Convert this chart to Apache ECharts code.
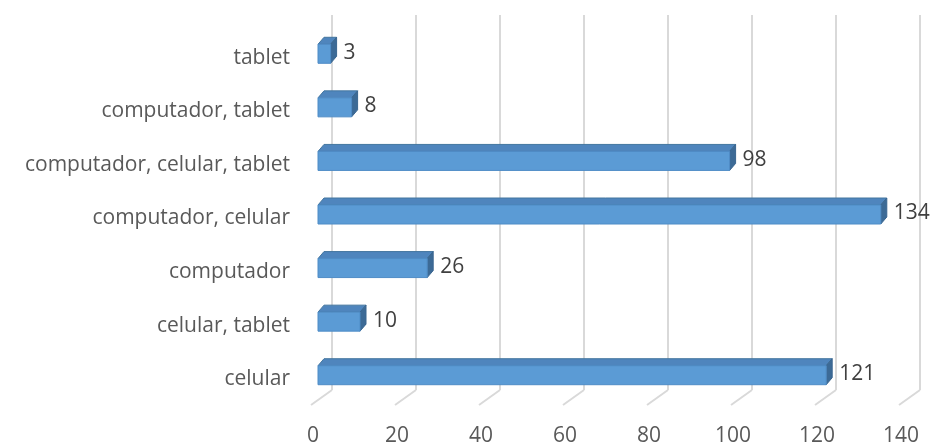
<!DOCTYPE html>
<html>
<head>
<meta charset="utf-8">
<script src="https://cdn.jsdelivr.net/npm/echarts@6/dist/echarts.min.js"></script>
<style>
  html, body { margin: 0; padding: 0; background: #ffffff; }
  #chart { width: 938px; height: 444px; }
</style>
</head>
<body>
<div id="chart"></div>
<script>
// Devices used, bottom to top
const categories = [
  'celular',
  'celular, tablet',
  'computador',
  'computador, celular',
  'computador, celular, tablet',
  'computador, tablet',
  'tablet'
];
const counts = [121, 10, 26, 134, 98, 8, 3];
const axisMax = 140;
const axisStep = 20;
const tickValues = [0, 20, 40, 60, 80, 100, 120, 140];

const FONT = 'Open Sans';
const FONT_SIZE = 21;
const TEXT_GRAY = '#595959';
const LABEL_DARK = '#404040';

// depth of the bar prisms (pixels)
const DX = 6, DY = -7;

const chart = echarts.init(document.getElementById('chart'), null, { renderer: 'canvas' });

function renderBar(params, api) {
  const v = api.value(0);
  const cat = api.value(1);
  const start = api.coord([0, cat]);
  const end = api.coord([v, cat]);
  const h = 19;
  const x0 = start[0], x1 = end[0];
  const yTop = start[1] - h / 2 + 2, yBot = yTop + h;
  return {
    type: 'group',
    children: [
      { // top face
        type: 'polygon',
        shape: { points: [[x0, yTop], [x0 + DX, yTop + DY], [x1 + DX, yTop + DY], [x1, yTop]] },
        style: { fill: '#4f85bd', stroke: '#44769f', lineWidth: 1 }
      },
      { // end face
        type: 'polygon',
        shape: { points: [[x1, yTop], [x1 + DX, yTop + DY], [x1 + DX, yBot + DY], [x1, yBot]] },
        style: { fill: '#3c6a96', stroke: '#3a6690', lineWidth: 1 }
      },
      { // front face
        type: 'rect',
        shape: { x: x0, y: yTop, width: x1 - x0, height: h },
        style: { fill: '#5b9bd5', stroke: '#4f8cc6', lineWidth: 1 }
      },
      {
        type: 'text',
        style: {
          text: String(v),
          x: x1 + 13, y: (yTop + yBot) / 2 - 1,
          verticalAlign: 'middle', align: 'left',
          fill: LABEL_DARK, font: FONT_SIZE + 'px "' + FONT + '"'
        }
      }
    ]
  };
}

// floor lines joining the back wall to the front of the plot
function renderFloor(params, api) {
  const p = api.coord([api.value(0), 0]);
  return {
    type: 'line',
    shape: { x1: p[0], y1: 390, x2: p[0] - 21, y2: 405 },
    style: { stroke: '#d9d9d9', lineWidth: 2 }
  };
}

chart.setOption({
  animation: false,
  backgroundColor: '#ffffff',
  grid: [
    { left: 318, right: 32, top: 25, bottom: 44, outerBoundsMode: 'none', containLabel: false },   // bars + labels
    { left: 332, right: 18, top: 15, bottom: 54, outerBoundsMode: 'none', containLabel: false }    // back wall
  ],
  xAxis: [
    {
      gridIndex: 0, type: 'value', min: 0, max: axisMax, interval: axisStep,
      axisLine: { show: false }, axisTick: { show: false }, splitLine: { show: false },
      axisLabel: {
        color: TEXT_GRAY, fontFamily: FONT, fontSize: FONT_SIZE, margin: 26,
        padding: [0, 10, 0, 0]
      }
    },
    {
      gridIndex: 1, type: 'value', min: 0, max: axisMax, interval: axisStep,
      axisLine: { show: false }, axisTick: { show: false }, axisLabel: { show: false },
      splitLine: { show: true, lineStyle: { color: '#d9d9d9', width: 2 } }
    }
  ],
  yAxis: [
    {
      gridIndex: 0, type: 'category', data: categories,
      axisLine: { show: false }, axisTick: { show: false },
      axisLabel: {
        color: TEXT_GRAY, fontFamily: FONT, fontSize: FONT_SIZE, margin: 28,
        verticalAlign: 'top', lineHeight: 12
      }
    },
    {
      gridIndex: 1, type: 'value', min: 0, max: 1,
      show: false
    }
  ],
  series: [
    {
      type: 'custom', xAxisIndex: 1, yAxisIndex: 1, z: 1,
      data: tickValues.map(v => [v]),
      encode: { x: 0 },
      renderItem: renderFloor,
      silent: true
    },
    {
      type: 'custom', xAxisIndex: 0, yAxisIndex: 0, z: 5,
      data: counts.map((v, i) => [v, i]),
      encode: { x: 0, y: 1 },
      renderItem: renderBar
    }
  ]
});
</script>
</body>
</html>
